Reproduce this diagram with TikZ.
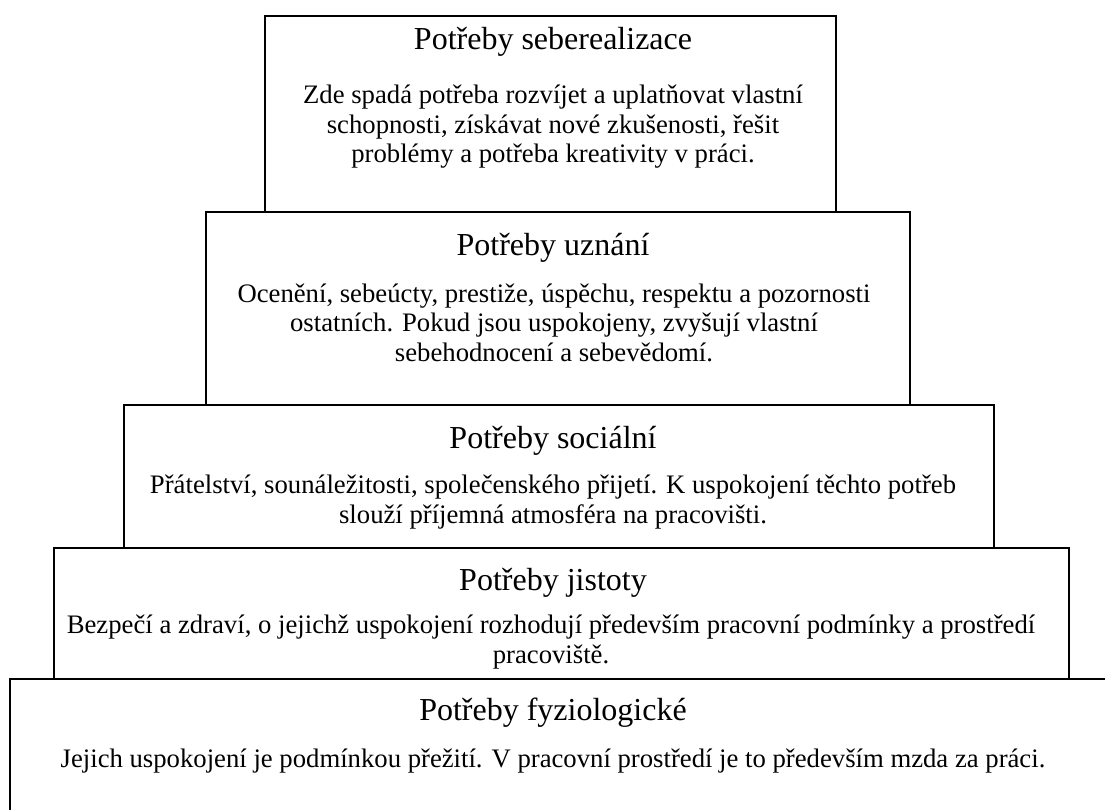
\documentclass[tikz,border=0pt]{standalone}
\usepackage{fontspec}
\setmainfont{Liberation Serif}
\begin{document}
\begin{tikzpicture}[x=1pt,y=-1pt,
  level/.style={draw=black,line width=2.2pt,fill=white,inner sep=0pt,rectangle},
  ttl/.style={anchor=base,inner sep=0pt,font=\fontsize{32}{34}\selectfont},
  bdy/.style={anchor=base,inner sep=0pt,align=center,font=\fontsize{26.7}{29.5}\selectfont}]
\clip (0,0) rectangle (1105,810);
% boxes (bottom to top)
\node[level,minimum width=1110pt,minimum height=170pt] (b5) at (565,764) {};
\node[level,minimum width=1015pt,minimum height=131pt] (b4) at (561.5,613.5) {};
\node[level,minimum width=870pt,minimum height=143pt] (b3) at (559,476.5) {};
\node[level,minimum width=704pt,minimum height=193pt] (b2) at (558,308.5) {};
\node[level,minimum width=571pt,minimum height=196pt] (b1) at (550.5,114) {};
% texts (body nodes anchored at the baseline of their last line)
\node[ttl] (t1) at (553,50) {Potřeby seberealizace};
\node[bdy] (d1) at (553,163) {Zde spadá potřeba rozvíjet a uplatňovat vlastní\\schopnosti, získávat nové zkušenosti, řešit\\problémy a potřeba kreativity v práci.};
\node[ttl] (t2) at (553,255) {Potřeby uznání};
\node[bdy] (d2) at (554,361) {Ocenění, sebeúcty, prestiže, úspěchu, respektu a pozornosti\\ostatních. Pokud jsou uspokojeny, zvyšují vlastní\\sebehodnocení a sebevědomí.};
\node[ttl] (t3) at (553,448) {Potřeby sociální};
\node[bdy] (d3) at (553,523) {Přátelství, sounáležitosti, společenského přijetí. K uspokojení těchto potřeb\\slouží příjemná atmosféra na pracovišti.};
\node[ttl] (t4) at (553,590) {Potřeby jistoty};
\node[bdy] (d4) at (551,663) {Bezpečí a zdraví, o jejichž uspokojení rozhodují především pracovní podmínky a prostředí\\pracoviště.};
\node[ttl] (t5) at (553,720) {Potřeby fyziologické};
\node[bdy] (d5) at (553,767) {Jejich uspokojení je podmínkou přežití. V pracovní prostředí je to především mzda za práci.};
\end{tikzpicture}
\end{document}
